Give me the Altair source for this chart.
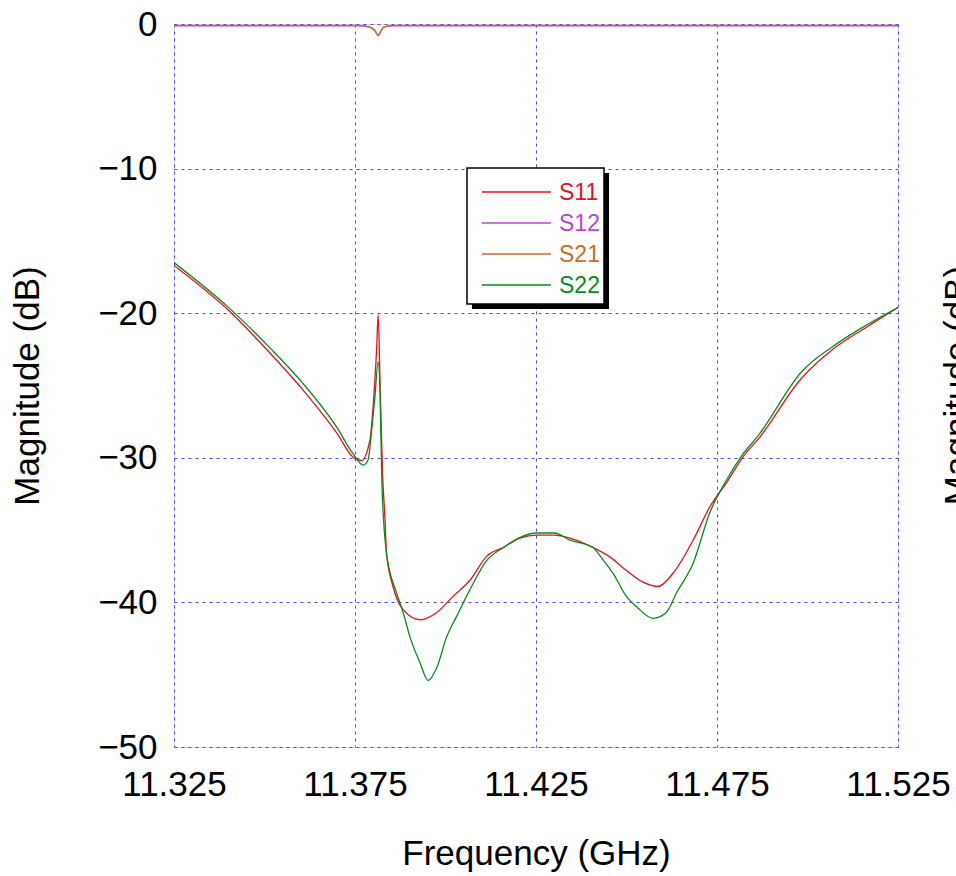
import altair as alt
import pandas as pd

# ---------------- data ----------------
series_names = ["S11", "S12", "S21", "S22"]
series_colors = ["#e8101a", "#c040d8", "#d06a1c", "#0a8a1e"]

s11_f = [11.325, 11.3405, 11.3515, 11.3606, 11.370, 11.3744, 11.3768, 11.3791, 11.3800,
         11.3810, 11.3814, 11.3819, 11.3826, 11.3833, 11.3837, 11.3855, 11.3883, 11.393,
         11.3976, 11.402, 11.4068, 11.4114, 11.416, 11.4206, 11.4252, 11.430, 11.4344,
         11.4407, 11.4454, 11.450, 11.4546, 11.4587, 11.4628, 11.4684, 11.473, 11.4777,
         11.482, 11.4869, 11.498, 11.507, 11.5164, 11.525]
s11_db = [-16.7, -19.9, -22.75, -25.3, -28.3, -29.95, -30.2, -28.8, -26.5,
          -22.3, -20.1, -24.6, -31.0, -34.3, -36.6, -38.9, -40.5, -41.2,
          -40.7, -39.6, -38.45, -36.8, -36.2, -35.55, -35.35, -35.35, -35.55,
          -36.2, -36.85, -37.8, -38.6, -38.9, -38.0, -35.7, -33.4, -31.7,
          -30.0, -28.55, -24.6, -22.5, -20.95, -19.6]

s22_f = [11.325, 11.3405, 11.3515, 11.3606, 11.370, 11.3744, 11.3773, 11.3786, 11.3796,
         11.3805, 11.3814, 11.3819, 11.3824, 11.3829, 11.3837, 11.3865, 11.3883, 11.3902,
         11.393, 11.3952, 11.3976, 11.4003, 11.403, 11.4068, 11.4114, 11.416, 11.4206,
         11.4252, 11.430, 11.4344, 11.4407, 11.4435, 11.4463, 11.450, 11.4528, 11.4573,
         11.461, 11.4638, 11.4684, 11.473, 11.4777, 11.482, 11.4869, 11.4888, 11.498,
         11.507, 11.5164, 11.525]
s22_db = [-16.5, -19.7, -22.4, -24.85, -27.9, -29.7, -30.5, -30.15, -28.1,
          -25.8, -23.35, -25.3, -31.5, -34.3, -36.6, -39.35, -40.7, -42.4,
          -44.2, -45.4, -44.5, -42.4, -41.0, -39.1, -37.1, -36.2, -35.5,
          -35.2, -35.2, -35.7, -36.2, -37.05, -38.0, -39.6, -40.3, -41.1,
          -40.7, -39.35, -37.3, -33.8, -31.5, -29.8, -28.3, -27.6, -24.15,
          -22.3, -20.8, -19.6]

s21_f = [11.325, 11.376, 11.379, 11.3805, 11.3814, 11.3822, 11.383, 11.386, 11.525]
s21_db = [-0.1, -0.1, -0.2, -0.45, -0.8, -0.45, -0.2, -0.1, -0.1]

s12_f = [11.325, 11.376, 11.379, 11.3805, 11.3814, 11.3822, 11.383, 11.386, 11.525]
s12_db = [-0.12, -0.12, -0.22, -0.47, -0.8, -0.47, -0.22, -0.12, -0.12]

x_ticks = [11.325, 11.375, 11.425, 11.475, 11.525]
y_ticks = [0, -10, -20, -30, -40, -50]

x_title = "Frequency (GHz)"
y_title = "Magnitude (dB)"

# ---------------- layout ----------------
W, H = 724, 723
FONT = "Liberation Sans Narrow, Liberation Sans, Arial, sans-serif"
BLUE = "#1010f0"
GRID = "#4a4ae6"

x_enc = alt.X(
    "f:Q",
    scale=alt.Scale(domain=[11.325, 11.525], nice=False, zero=False),
    axis=alt.Axis(
        values=x_ticks, format=".3f", title=x_title, grid=True, gridColor=GRID,
        gridDash=[3, 4], gridWidth=1, domain=False, ticks=False, labelPadding=20,
        labelFontSize=35, titleFontSize=35, titlePadding=34, labelOverlap=False,
        labelFlush=False, labelFont=FONT, titleFont=FONT, labelColor="black",
        titleColor="black", titleFontWeight="normal",
    ),
)
y_enc = alt.Y(
    "db:Q",
    scale=alt.Scale(domain=[-50, 0], nice=False, zero=False),
    axis=alt.Axis(
        values=y_ticks, format="d", title=y_title, grid=True, gridColor=GRID,
        gridDash=[3, 4], gridWidth=1, domain=False, ticks=False, labelPadding=17,
        labelFontSize=35, titleFontSize=35, titlePadding=52, labelOverlap=False,
        labelFlush=False, labelFont=FONT, titleFont=FONT, labelColor="black",
        titleColor="black", titleFontWeight="normal",
    ),
)

layers = []
for name, fs, ds in [("S12", s12_f, s12_db), ("S21", s21_f, s21_db),
                     ("S11", s11_f, s11_db), ("S22", s22_f, s22_db)]:
    col = series_colors[series_names.index(name)]
    df = pd.DataFrame({"f": fs, "db": ds})
    layers.append(
        alt.Chart(df).mark_line(color=col, strokeWidth=1.3, clip=True,
                                interpolate="monotone").encode(x=x_enc, y=y_enc)
    )

# ---------------- legend (drawn box with shadow) ----------------
one = alt.Data(values=[{"k": 1}])
LX0, LY0, LX1, LY1 = 293, 144, 430, 280
layers.append(
    alt.Chart(one).mark_rect(fill="black").encode(
        x=alt.value(LX0 + 5), x2=alt.value(LX1 + 5), y=alt.value(LY0 + 5), y2=alt.value(LY1 + 5)
    )
)
layers.append(
    alt.Chart(one).mark_rect(fill="white", stroke="black", strokeWidth=1.5).encode(
        x=alt.value(LX0), x2=alt.value(LX1), y=alt.value(LY0), y2=alt.value(LY1)
    )
)
for i, (name, col) in enumerate(zip(series_names, series_colors)):
    yy = 168 + i * 31
    layers.append(
        alt.Chart(one).mark_rule(color=col, strokeWidth=1.5).encode(
            x=alt.value(308), x2=alt.value(377), y=alt.value(yy)
        )
    )
    layers.append(
        alt.Chart(one).mark_text(
            text=name, color=col, font=FONT, fontSize=23, align="left", baseline="middle"
        ).encode(x=alt.value(385), y=alt.value(yy + 1))
    )

# second y title on the right edge (cut off by the page edge, as in the original)
layers.append(
    alt.Chart(one).mark_text(
        text=y_title, font=FONT, fontSize=35, angle=270, align="center", baseline="top",
        color="black"
    ).encode(x=alt.value(767), y=alt.value(H / 2))
)

chart = (
    alt.layer(*layers)
    .properties(
        width=W, height=H,
        autosize=alt.AutoSizeParams(type="none"),
        padding={"left": 174, "top": 24, "right": 58, "bottom": 129},
    )
    .configure_view(stroke=BLUE, strokeWidth=2)
    .configure(background="white")
)

chart.save("out.html", embed_options={"renderer": "svg", "actions": False})
